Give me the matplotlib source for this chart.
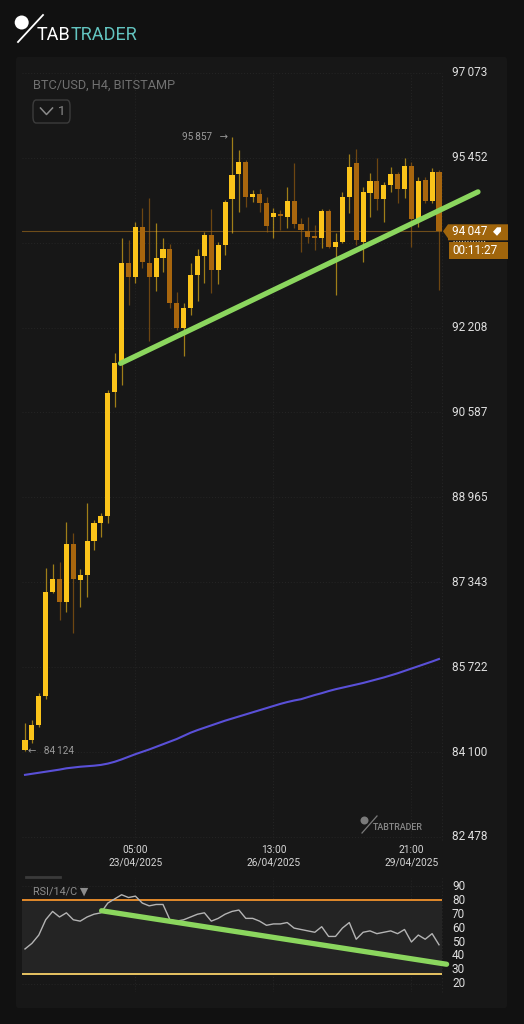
import matplotlib
matplotlib.use('Agg')
import matplotlib.pyplot as plt
from matplotlib.patches import FancyBboxPatch, Polygon, Ellipse
from matplotlib.lines import Line2D
import numpy as np

plt.rcParams['font.family'] = ['Roboto', 'DejaVu Sans']

# ---------------- data ----------------
opens = [84140, 84331, 84617, 85171, 87158, 87406, 86967, 88074, 87387, 87482,
         88132, 88475, 88609, 90978, 91531, 93441, 93174, 94129, 93441, 93174,
         93537, 93709, 92677, 92200, 92582, 93212, 93575, 93976, 93307, 93785,
         94664, 95141, 95371, 94702, 94759, 94587, 94320, 94377, 94320, 94626,
         94186, 94052, 93938, 93919, 94435, 93747, 93843, 94702, 95351, 93843,
         94779, 95008, 94664, 94931, 95141, 94855, 95294, 94282, 95027, 94626,
         95179]
highs = [84655, 84713, 85228, 87616, 87692, 87730, 88495, 88284, 87597, 88857,
         88532, 88666, 91015, 91722, 93919, 93881, 94224, 94492, 94683, 94205,
         93919, 93804, 92887, 92677, 93441, 93709, 94033, 94473, 93843, 94645,
         95857, 95600, 95409, 94836, 94855, 94702, 94492, 94454, 94893, 95351,
         94301, 94320, 94167, 94473, 94473, 94014, 94798, 95523, 95619, 94893,
         95160, 95447, 94989, 95275, 95179, 95447, 95371, 95084, 95084, 95256,
         95218]
lows = [84124, 84273, 84579, 85114, 87138, 86623, 86776, 86374, 86872, 87062,
        87960, 88208, 88475, 90691, 91111, 92639, 93059, 93346, 91952, 92907,
        93269, 92582, 92162, 91665, 92448, 92716, 93059, 92868, 93040, 93594,
        94014, 94416, 94511, 94607, 94416, 94033, 93919, 94071, 94110, 94110,
        93651, 93823, 93690, 93727, 93727, 92830, 93823, 94396, 93785, 93460,
        94320, 94454, 94224, 94797, 94587, 94683, 93747, 94129, 94587, 94587,
        92926]
closes = [84331, 84617, 85171, 87158, 87406, 86967, 88074, 87406, 87482, 88132,
          88475, 88609, 90958, 91531, 93441, 93174, 94129, 93460, 93174, 93537,
          93709, 92677, 92200, 92582, 93212, 93575, 93976, 93307, 93785, 94607,
          95122, 95371, 94702, 94759, 94587, 94148, 94396, 94339, 94626, 94186,
          94071, 93938, 93919, 94435, 93747, 93843, 94702, 95275, 93881, 94798,
          95008, 94664, 94931, 95141, 94855, 95294, 94282, 95008, 94626, 95179,
          94047]
ma_line = [83665, 83685, 83705, 83725, 83745, 83765, 83790, 83805, 83820, 83830,
           83840, 83855, 83880, 83915, 83960, 84010, 84060, 84105, 84150, 84200,
           84250, 84300, 84350, 84410, 84470, 84520, 84565, 84610, 84655, 84700,
           84740, 84780, 84820, 84860, 84900, 84940, 84980, 85020, 85055, 85085,
           85110, 85150, 85190, 85225, 85265, 85300, 85330, 85360, 85390, 85420,
           85455, 85490, 85525, 85565, 85605, 85650, 85695, 85740, 85785, 85830,
           85878]
rsi = [45, 49, 55, 66, 72, 68, 71, 66, 65, 68,
       70, 71, 78, 81, 84, 82, 83, 78, 76, 77,
       77, 66, 65, 66, 68, 70, 71, 65, 67, 70,
       72, 73, 67, 67, 65, 62, 63, 63, 64, 60,
       59, 58, 57, 61, 54, 54, 60, 64, 52, 57,
       58, 56, 57, 58, 56, 59, 50, 55, 52, 56,
       48]

price_ticks = [97073, 95452, 93830, 92208, 90587, 88965, 87343, 85722, 84100, 82478]
price_tick_labels = [97073, 95452, None, 92208, 90587, 88965, 87343, 85722, 84100, 82478]
rsi_ticks = [90, 80, 70, 60, 50, 40, 30, 20]
rsi_upper, rsi_lower = 80, 27

tick_idx = [16, 36, 56]
tick_time = ['05:00', '13:00', '21:00']
tick_date = ['23/04/2025', '26/04/2025', '29/04/2025']

trend_price_x = [13.85, 65.65]
trend_price_y = [91525, 94800]
trend_rsi_x = [11.1, 61.1]
trend_rsi_y = [72.5, 34.0]

countdown = '00:11:27'

# ---------------- styles ----------------
UP = '#FBC41A'
DOWN = '#A8660E'
BG = '#111111'
PANEL = '#171717'
GRID = '#252525'
LABEL = '#dedede'
GREEN = '#8BD65E'

W, H = 524, 1024
fig = plt.figure(figsize=(W / 100, H / 100), dpi=100, facecolor=BG)


def fx(x):
    return x / W


def fy(y):
    return 1 - y / H


def pxrect(x0, y0, x1, y1):
    return [fx(x0), fy(y1), fx(x1) - fx(x0), fy(y0) - fy(y1)]


def fmt(v):
    return f"{v:,}".replace(',', '\u2009')


def dot(xc, yc, rad, color):
    fig.patches.append(Ellipse((fx(xc), fy(yc)), 2 * rad / W, 2 * rad / H,
                               transform=fig.transFigure, facecolor=color,
                               edgecolor='none', zorder=2))


# card panel
fig.patches.append(FancyBboxPatch((fx(16), fy(1008)), fx(507) - fx(16), fy(57) - fy(1008),
                                  boxstyle='round,pad=0,rounding_size=0.004',
                                  transform=fig.transFigure, facecolor=PANEL,
                                  edgecolor='none', zorder=-5))

# logo
dot(21.7, 22.5, 7, 'white')
fig.lines.append(Line2D([fx(18), fx(43)], [fy(42), fy(15)], transform=fig.transFigure,
                        color='white', lw=1.3))
t_tab = fig.text(fx(37), fy(40), 'TAB', color='white', fontsize=13, va='baseline', ha='left')
fig.canvas.draw()
r = fig.canvas.get_renderer()
bb = t_tab.get_window_extent(r)
fig.text(bb.x1 / W, fy(40), 'TRADER', color='#63C4C0', fontsize=13, va='baseline', ha='left')

# ---------------- price axes ----------------
n = len(closes)
x = np.arange(n)
ax = fig.add_axes(pxrect(22, 60, 442, 840))
ax.set_facecolor('none')
for s in ax.spines.values():
    s.set_visible(False)
ax.set_xticks([])
ax.set_yticks([])
ax.set_xlim((22 - 25) / 6.9, (442 - 25) / 6.9)
ax.set_ylim(82478 + (837 - 840) * 19.1, 82478 + (837 - 60) * 19.1)

for p in price_ticks:
    ax.axhline(p, color=GRID, lw=0.7, ls=(0, (1, 2)), zorder=0)
for i in tick_idx:
    ax.axvline(i, ymin=0, ymax=(840 - 73) / 780, color=GRID, lw=0.7, ls=(0, (1, 2)), zorder=0)
ax.axvline(ax.get_xlim()[1], ymin=0, ymax=(840 - 73) / 780, color=GRID, lw=0.8,
           ls=(0, (1, 2)), zorder=0, clip_on=False)

# current price line
ax.axhline(closes[-1], color='#6e4d1a', lw=0.8, zorder=1)

# moving average
ax.plot(x, ma_line, color='#5A50D8', lw=1.5, zorder=2)

# candles
o = np.array(opens); c = np.array(closes); h = np.array(highs); l = np.array(lows)
up = c >= o
cols = np.where(up, UP, DOWN)
ax.vlines(x, l, h, colors=cols, lw=0.9, alpha=0.6, zorder=3)
bottoms = np.minimum(o, c)
heights = np.maximum(np.abs(c - o), 30)
ax.bar(x, heights, bottom=bottoms, width=0.74, color=cols, edgecolor='none', zorder=4)

# trendline
ax.plot(trend_price_x, trend_price_y, color=GREEN, lw=3.8, solid_capstyle='round',
        clip_on=False, zorder=6)

# price labels
for p, lab in zip(price_ticks, price_tick_labels):
    if lab is None:
        continue
    ax.text((452 - 22) / 420, p, fmt(lab), transform=ax.get_yaxis_transform(),
            color=LABEL, fontsize=8.5, va='center', ha='left', clip_on=False)

# high / low markers
imax = int(np.argmax(h))
imin = int(np.argmin(l))
ax.text(imax - 0.6, h[imax], fmt(int(h[imax])) + '   \u2192', color='#9a9a9a', fontsize=7.2,
        va='center', ha='right')
ax.text(imin + 0.45, l[imin], '\u2190   ' + fmt(int(l[imin])), color='#9a9a9a', fontsize=7.2,
        va='center', ha='left')

# header text
fig.text(fx(33), fy(85.5), 'BTC/USD, H4, BITSTAMP', color='#707070', fontsize=9.2, va='center')
fig.patches.append(FancyBboxPatch((fx(33), fy(123)), fx(70) - fx(33), fy(100) - fy(123),
                                  boxstyle='round,pad=0,rounding_size=0.006',
                                  transform=fig.transFigure, facecolor='none',
                                  edgecolor='#3c3c3c', lw=1.0))
fig.lines.append(Line2D([fx(40.5), fx(46.5), fx(52.5)], [fy(108), fy(114.5), fy(108)],
                        transform=fig.transFigure, color='#8a8a8a', lw=1.1))
fig.text(fx(58), fy(111.5), '1', color='#8a8a8a', fontsize=9.5, va='center')

# time labels
for i, tt, dd in zip(tick_idx, tick_time, tick_date):
    ax.text(i, (840 - 850) / 780, tt, transform=ax.get_xaxis_transform(), color='#d6d6d6',
            fontsize=7.3, ha='center', va='center', clip_on=False)
    ax.text(i, (840 - 863) / 780, dd, transform=ax.get_xaxis_transform(), color='#d6d6d6',
            fontsize=7.3, ha='center', va='center', clip_on=False)

# watermark
dot(364.5, 820.5, 4, '#7a7a7a')
fig.lines.append(Line2D([fx(362), fx(377)], [fy(833), fy(816)], transform=fig.transFigure,
                        color='#7a7a7a', lw=0.9))
fig.text(fx(373), fy(827.5), 'TABTRADER', color='#8a8a8a', fontsize=6.4, va='center',
         ha='left', fontweight='medium')

# current price tag
ydisp = ax.transData.transform((0, closes[-1]))[1]
yc = H - ydisp  # pixel from top
tag = Polygon([(fx(443), fy(yc)), (fx(448), fy(yc - 7)), (fx(508), fy(yc - 7)),
               (fx(508), fy(yc + 9)), (fx(448), fy(yc + 9)), (fx(448), fy(yc + 7))],
              closed=True, transform=fig.transFigure, facecolor='#A0650C', edgecolor='none')
fig.patches.append(tag)
fig.patches.append(Polygon([(fx(449), fy(yc + 11)), (fx(508), fy(yc + 11)),
                            (fx(508), fy(yc + 28)), (fx(449), fy(yc + 28))], closed=True,
                           transform=fig.transFigure, facecolor='#A0650C', edgecolor='none'))
fig.text(fx(452.5), fy(yc + 0.5), fmt(closes[-1]), color='white', fontsize=8.5,
         va='center', ha='left')
fig.text(fx(452.5), fy(yc + 19.5), countdown, color='white', fontsize=8.5,
         va='center', ha='left')
fig.patches.append(Polygon([(fx(493), fy(yc + 0.5)), (fx(497), fy(yc - 4)), (fx(501), fy(yc - 4)),
                            (fx(501), fy(yc)), (fx(497), fy(yc + 4.5))], closed=True,
                           transform=fig.transFigure, facecolor='white', edgecolor='none'))
fig.lines.append(Line2D([fx(453), fx(486)], [fy(yc + 10), fy(yc + 10)], transform=fig.transFigure,
                        color='#d8c8a8', lw=0.8, ls=(0, (1, 1.5))))

# ---------------- RSI axes ----------------
ax2 = fig.add_axes(pxrect(22, 878, 442, 992))
ax2.set_facecolor('none')
for s in ax2.spines.values():
    s.set_visible(False)
ax2.set_xticks([])
ax2.set_yticks([])
ax2.set_xlim(ax.get_xlim())
ax2.set_ylim(50 - (992 - 942) / 1.39, 50 + (942 - 878) / 1.39)

ax2.axhspan(rsi_lower, rsi_upper, color='#242424', lw=0, zorder=0)
for rv in (90, 20):
    ax2.axhline(rv, color=GRID, lw=0.7, ls=(0, (1, 2)), zorder=0)
for i in tick_idx:
    ax2.axvline(i, color=GRID, lw=0.7, ls=(0, (1, 2)), zorder=0)
ax2.axvline(ax2.get_xlim()[1], color=GRID, lw=0.8, ls=(0, (1, 2)), zorder=0, clip_on=False)
ax2.axhline(rsi_upper, color='#E38A2B', lw=1.4, zorder=2)
ax2.axhline(rsi_lower, color='#E8C463', lw=1.4, zorder=2)
ax2.plot(x, rsi, color='#b4b4b4', lw=1.0, zorder=3)
ax2.plot(trend_rsi_x, trend_rsi_y, color=GREEN, lw=3.8, solid_capstyle='round',
         clip_on=False, zorder=5)
for rv in rsi_ticks:
    ax2.text((452 - 22) / 420, rv, str(rv), transform=ax2.get_yaxis_transform(),
             color=LABEL, fontsize=8.5, va='center', ha='left', clip_on=False)

fig.text(fx(33), fy(891.5), 'RSI/14/C \u25BC', color='#8c8c8c', fontsize=7.8, va='center',
         ha='left', family=['Roboto', 'DejaVu Sans'])
fig.lines.append(Line2D([fx(26), fx(60)], [fy(877), fy(877)], transform=fig.transFigure,
                        color='#3a3a3a', lw=2))

fig.savefig('out.png', dpi=100, facecolor=BG)
